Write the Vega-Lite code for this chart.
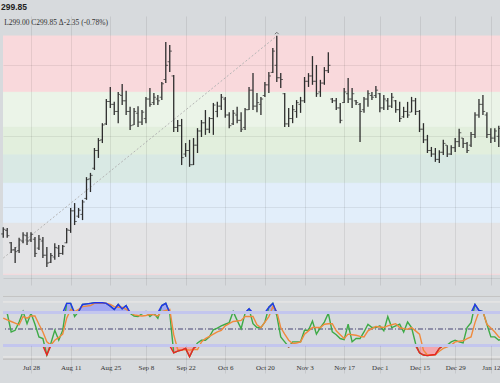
{
  "$schema": "https://vega.github.io/schema/vega-lite/v6.json",
  "background": "#d7dadd",
  "padding": {"left": 0, "right": 0, "top": 3, "bottom": 10},
  "spacing": 0,
  "config": {"view": {"stroke": null}, "title": {"anchor": "start"}},
  "datasets": {
    "bars": [
      {"d":"2025-07-17","o":272.5,"h":274.4,"l":271.4,"c":273.8,"k":79,"dd":70},
      {"d":"2025-07-18","o":273.5,"h":274.2,"l":271.4,"c":272.0,"k":79,"dd":67},
      {"d":"2025-07-21","o":270.0,"h":270.2,"l":267.1,"c":268.0,"k":45,"dd":64},
      {"d":"2025-07-22","o":268.0,"h":268.8,"l":264.3,"c":267.5,"k":48,"dd":61},
      {"d":"2025-07-23","o":267.8,"h":271.4,"l":267.1,"c":270.8,"k":63,"dd":58},
      {"d":"2025-07-24","o":270.5,"h":273.0,"l":269.9,"c":272.2,"k":82,"dd":73},
      {"d":"2025-07-25","o":272.0,"h":273.0,"l":269.4,"c":270.5,"k":60,"dd":70},
      {"d":"2025-07-28","o":270.8,"h":273.0,"l":270.2,"c":272.4,"k":79,"dd":74},
      {"d":"2025-07-29","o":271.0,"h":271.6,"l":266.0,"c":267.0,"k":59,"dd":74},
      {"d":"2025-07-30","o":268.5,"h":272.2,"l":268.0,"c":271.0,"k":36,"dd":59},
      {"d":"2025-07-31","o":270.5,"h":271.6,"l":265.7,"c":266.5,"k":33,"dd":45},
      {"d":"2025-08-01","o":266.5,"h":268.8,"l":263.2,"c":264.3,"k":3,"dd":27},
      {"d":"2025-08-04","o":264.5,"h":267.1,"l":264.3,"c":266.4,"k":24,"dd":21},
      {"d":"2025-08-05","o":266.0,"h":269.9,"l":265.2,"c":268.7,"k":48,"dd":30},
      {"d":"2025-08-06","o":268.5,"h":269.4,"l":266.0,"c":267.0,"k":30,"dd":35},
      {"d":"2025-08-07","o":267.0,"h":269.4,"l":266.6,"c":269.0,"k":48,"dd":41},
      {"d":"2025-08-08","o":270.0,"h":274.2,"l":269.9,"c":273.6,"k":97,"dd":70},
      {"d":"2025-08-11","o":273.5,"h":279.8,"l":272.8,"c":279.0,"k":97,"dd":86},
      {"d":"2025-08-12","o":279.0,"h":281.2,"l":275.0,"c":276.0,"k":73,"dd":82},
      {"d":"2025-08-13","o":277.5,"h":279.8,"l":277.0,"c":279.2,"k":82,"dd":86},
      {"d":"2025-08-14","o":278.0,"h":282.1,"l":276.4,"c":281.5,"k":95,"dd":91},
      {"d":"2025-08-15","o":282.5,"h":288.5,"l":282.1,"c":287.8,"k":96,"dd":92},
      {"d":"2025-08-18","o":288.0,"h":289.7,"l":284.3,"c":289.0,"k":97,"dd":93},
      {"d":"2025-08-19","o":291.0,"h":296.7,"l":290.5,"c":296.0,"k":98,"dd":97},
      {"d":"2025-08-20","o":296.0,"h":299.5,"l":293.9,"c":298.8,"k":98,"dd":97},
      {"d":"2025-08-21","o":299.0,"h":303.7,"l":298.1,"c":303.2,"k":98,"dd":98},
      {"d":"2025-08-22","o":303.5,"h":310.5,"l":303.2,"c":309.8,"k":97,"dd":97},
      {"d":"2025-08-25","o":309.8,"h":313.9,"l":308.0,"c":309.0,"k":92,"dd":95},
      {"d":"2025-08-26","o":309.0,"h":309.7,"l":306.0,"c":307.0,"k":86,"dd":91},
      {"d":"2025-08-27","o":307.0,"h":312.5,"l":303.7,"c":311.8,"k":95,"dd":90},
      {"d":"2025-08-28","o":311.5,"h":314.7,"l":308.8,"c":310.0,"k":87,"dd":90},
      {"d":"2025-08-29","o":310.0,"h":312.8,"l":306.0,"c":307.0,"k":93,"dd":86},
      {"d":"2025-09-02","o":307.0,"h":308.3,"l":301.8,"c":303.0,"k":79,"dd":82},
      {"d":"2025-09-03","o":303.2,"h":308.0,"l":303.2,"c":307.0,"k":74,"dd":76},
      {"d":"2025-09-04","o":306.5,"h":308.5,"l":302.6,"c":304.0,"k":73,"dd":75},
      {"d":"2025-09-05","o":304.0,"h":307.4,"l":303.2,"c":306.8,"k":78,"dd":74},
      {"d":"2025-09-08","o":305.0,"h":311.1,"l":303.7,"c":310.5,"k":82,"dd":75},
      {"d":"2025-09-09","o":310.5,"h":313.6,"l":308.3,"c":309.0,"k":73,"dd":77},
      {"d":"2025-09-10","o":309.5,"h":312.2,"l":308.8,"c":311.0,"k":79,"dd":76},
      {"d":"2025-09-11","o":310.5,"h":311.6,"l":308.8,"c":310.0,"k":70,"dd":74},
      {"d":"2025-09-12","o":311.0,"h":315.3,"l":310.2,"c":314.8,"k":93,"dd":82},
      {"d":"2025-09-15","o":316.0,"h":326.6,"l":315.0,"c":320.0,"k":97,"dd":84},
      {"d":"2025-09-16","o":321.0,"h":325.7,"l":318.1,"c":324.0,"k":79,"dd":86},
      {"d":"2025-09-17","o":317.0,"h":317.3,"l":301.2,"c":302.5,"k":7,"dd":40},
      {"d":"2025-09-18","o":302.5,"h":304.6,"l":301.2,"c":303.0,"k":10,"dd":13},
      {"d":"2025-09-19","o":303.0,"h":304.9,"l":291.9,"c":294.0,"k":12,"dd":12},
      {"d":"2025-09-22","o":295.0,"h":298.1,"l":294.2,"c":296.0,"k":15,"dd":13},
      {"d":"2025-09-23","o":296.0,"h":299.0,"l":291.4,"c":292.0,"k":0,"dd":12},
      {"d":"2025-09-24","o":292.0,"h":299.5,"l":291.9,"c":297.5,"k":15,"dd":13},
      {"d":"2025-09-25","o":297.5,"h":302.3,"l":295.3,"c":301.5,"k":25,"dd":13},
      {"d":"2025-09-26","o":301.5,"h":304.6,"l":299.8,"c":303.8,"k":30,"dd":27},
      {"d":"2025-09-29","o":303.8,"h":307.4,"l":300.4,"c":302.0,"k":30,"dd":33},
      {"d":"2025-09-30","o":302.0,"h":305.4,"l":300.9,"c":305.0,"k":36,"dd":37},
      {"d":"2025-10-01","o":305.0,"h":309.4,"l":300.4,"c":308.8,"k":49,"dd":41},
      {"d":"2025-10-02","o":307.0,"h":309.7,"l":305.4,"c":308.5,"k":52,"dd":45},
      {"d":"2025-10-03","o":308.5,"h":311.9,"l":307.4,"c":311.0,"k":56,"dd":48},
      {"d":"2025-10-06","o":310.5,"h":311.1,"l":305.2,"c":306.0,"k":59,"dd":56},
      {"d":"2025-10-07","o":306.0,"h":306.8,"l":302.3,"c":303.0,"k":62,"dd":60},
      {"d":"2025-10-08","o":303.5,"h":307.4,"l":303.2,"c":306.5,"k":82,"dd":64},
      {"d":"2025-10-09","o":306.0,"h":308.3,"l":303.7,"c":304.5,"k":66,"dd":65},
      {"d":"2025-10-10","o":304.5,"h":306.8,"l":301.2,"c":302.0,"k":51,"dd":66},
      {"d":"2025-10-13","o":302.5,"h":308.0,"l":301.8,"c":307.5,"k":79,"dd":73},
      {"d":"2025-10-14","o":307.5,"h":313.9,"l":307.4,"c":313.0,"k":87,"dd":73},
      {"d":"2025-10-15","o":313.0,"h":317.8,"l":307.4,"c":308.5,"k":60,"dd":73},
      {"d":"2025-10-16","o":308.5,"h":312.2,"l":306.8,"c":309.5,"k":53,"dd":58},
      {"d":"2025-10-17","o":309.0,"h":311.1,"l":306.0,"c":310.5,"k":53,"dd":53},
      {"d":"2025-10-20","o":311.5,"h":315.3,"l":311.1,"c":314.5,"k":63,"dd":63},
      {"d":"2025-10-21","o":314.5,"h":318.1,"l":312.2,"c":317.0,"k":90,"dd":73},
      {"d":"2025-10-22","o":318.0,"h":324.9,"l":317.8,"c":324.0,"k":97,"dd":91},
      {"d":"2025-10-23","o":320.0,"h":328.3,"l":315.3,"c":316.5,"k":75,"dd":82},
      {"d":"2025-10-24","o":316.5,"h":317.8,"l":313.6,"c":316.0,"k":36,"dd":53},
      {"d":"2025-10-27","o":312.0,"h":312.2,"l":302.6,"c":303.5,"k":27,"dd":41},
      {"d":"2025-10-28","o":303.5,"h":308.0,"l":302.6,"c":305.0,"k":18,"dd":30},
      {"d":"2025-10-29","o":305.0,"h":308.8,"l":303.7,"c":307.5,"k":27,"dd":24},
      {"d":"2025-10-30","o":307.0,"h":310.2,"l":305.2,"c":309.5,"k":27,"dd":25},
      {"d":"2025-10-31","o":309.0,"h":311.1,"l":306.6,"c":310.0,"k":27,"dd":27},
      {"d":"2025-11-03","o":310.0,"h":316.7,"l":309.4,"c":315.5,"k":48,"dd":41},
      {"d":"2025-11-04","o":315.5,"h":317.8,"l":313.9,"c":317.0,"k":48,"dd":47},
      {"d":"2025-11-05","o":317.0,"h":322.6,"l":314.5,"c":315.5,"k":65,"dd":53},
      {"d":"2025-11-06","o":315.5,"h":320.1,"l":311.1,"c":312.0,"k":41,"dd":53},
      {"d":"2025-11-07","o":312.5,"h":315.9,"l":311.1,"c":315.0,"k":53,"dd":53},
      {"d":"2025-11-10","o":315.0,"h":319.5,"l":314.5,"c":318.5,"k":63,"dd":59},
      {"d":"2025-11-11","o":318.5,"h":323.7,"l":317.8,"c":320.0,"k":79,"dd":60},
      {"d":"2025-11-12","o":310.5,"h":310.8,"l":309.4,"c":310.0,"k":45,"dd":60},
      {"d":"2025-11-13","o":310.0,"h":310.8,"l":307.4,"c":308.0,"k":40,"dd":47},
      {"d":"2025-11-14","o":308.0,"h":309.4,"l":303.7,"c":304.5,"k":33,"dd":40},
      {"d":"2025-11-17","o":309.5,"h":313.6,"l":309.4,"c":312.5,"k":31,"dd":33},
      {"d":"2025-11-18","o":312.0,"h":316.4,"l":309.4,"c":310.5,"k":59,"dd":41},
      {"d":"2025-11-19","o":310.5,"h":313.6,"l":308.0,"c":312.0,"k":27,"dd":40},
      {"d":"2025-11-20","o":310.0,"h":310.2,"l":308.8,"c":309.5,"k":33,"dd":39},
      {"d":"2025-11-21","o":309.0,"h":309.4,"l":298.4,"c":307.0,"k":33,"dd":37},
      {"d":"2025-11-24","o":307.5,"h":311.1,"l":306.6,"c":310.5,"k":45,"dd":36},
      {"d":"2025-11-25","o":310.5,"h":313.0,"l":308.3,"c":312.0,"k":59,"dd":47},
      {"d":"2025-11-26","o":311.5,"h":312.5,"l":310.2,"c":311.0,"k":53,"dd":51},
      {"d":"2025-11-28","o":311.5,"h":314.2,"l":310.8,"c":313.0,"k":53,"dd":55},
      {"d":"2025-12-01","o":312.0,"h":312.2,"l":306.8,"c":308.0,"k":56,"dd":54},
      {"d":"2025-12-02","o":308.0,"h":311.6,"l":307.4,"c":310.5,"k":47,"dd":53},
      {"d":"2025-12-03","o":310.0,"h":310.8,"l":307.4,"c":308.5,"k":73,"dd":56},
      {"d":"2025-12-04","o":308.5,"h":312.2,"l":308.0,"c":311.0,"k":53,"dd":58},
      {"d":"2025-12-05","o":310.0,"h":310.2,"l":306.6,"c":307.5,"k":56,"dd":60},
      {"d":"2025-12-08","o":307.5,"h":309.7,"l":304.0,"c":305.0,"k":59,"dd":53},
      {"d":"2025-12-09","o":305.5,"h":308.3,"l":305.2,"c":307.0,"k":45,"dd":51},
      {"d":"2025-12-10","o":307.0,"h":309.7,"l":305.2,"c":306.0,"k":63,"dd":50},
      {"d":"2025-12-11","o":306.8,"h":311.1,"l":306.8,"c":310.0,"k":53,"dd":53},
      {"d":"2025-12-12","o":310.0,"h":310.8,"l":306.0,"c":307.0,"k":24,"dd":47},
      {"d":"2025-12-15","o":307.0,"h":307.4,"l":301.2,"c":302.0,"k":7,"dd":41},
      {"d":"2025-12-16","o":302.0,"h":303.7,"l":298.1,"c":299.0,"k":3,"dd":12},
      {"d":"2025-12-17","o":299.0,"h":300.4,"l":295.3,"c":296.0,"k":2,"dd":3},
      {"d":"2025-12-18","o":296.0,"h":297.0,"l":294.2,"c":295.0,"k":3,"dd":3},
      {"d":"2025-12-19","o":295.0,"h":296.7,"l":292.8,"c":293.5,"k":4,"dd":4},
      {"d":"2025-12-22","o":293.5,"h":296.1,"l":292.5,"c":295.5,"k":15,"dd":10},
      {"d":"2025-12-23","o":295.5,"h":299.0,"l":294.7,"c":298.0,"k":21,"dd":15},
      {"d":"2025-12-24","o":297.5,"h":297.5,"l":294.2,"c":295.0,"k":21,"dd":18},
      {"d":"2025-12-26","o":295.0,"h":297.5,"l":294.7,"c":296.8,"k":27,"dd":21},
      {"d":"2025-12-29","o":296.8,"h":299.5,"l":295.6,"c":298.5,"k":30,"dd":27},
      {"d":"2025-12-30","o":298.5,"h":302.1,"l":297.0,"c":301.0,"k":27,"dd":28},
      {"d":"2025-12-31","o":299.5,"h":299.5,"l":296.7,"c":298.0,"k":25,"dd":29},
      {"d":"2026-01-02","o":298.0,"h":298.4,"l":295.3,"c":296.0,"k":53,"dd":33},
      {"d":"2026-01-05","o":297.5,"h":301.2,"l":297.0,"c":300.5,"k":62,"dd":36},
      {"d":"2026-01-06","o":300.5,"h":306.8,"l":299.5,"c":306.0,"k":95,"dd":62},
      {"d":"2026-01-07","o":306.0,"h":310.5,"l":305.2,"c":309.0,"k":84,"dd":82},
      {"d":"2026-01-08","o":309.0,"h":311.6,"l":306.0,"c":307.0,"k":82,"dd":82},
      {"d":"2026-01-09","o":306.0,"h":306.8,"l":299.5,"c":300.5,"k":59,"dd":59},
      {"d":"2026-01-12","o":300.5,"h":302.3,"l":298.1,"c":299.5,"k":36,"dd":52},
      {"d":"2026-01-13","o":299.5,"h":302.3,"l":298.4,"c":301.5,"k":36,"dd":45},
      {"d":"2026-01-14","o":300.0,"h":303.0,"l":297.0,"c":302.2,"k":30,"dd":36},
      {"d":"2026-01-15","o":302.0,"h":302.6,"l":299.0,"c":299.85,"k":33,"dd":33}
    ],
    "zones": [
      {"z":"z1","lo":312.39,"hi":328.25},
      {"z":"z2","lo":302.54,"hi":312.39},
      {"z":"z3","lo":294.73,"hi":302.54},
      {"z":"z4","lo":286.76,"hi":294.73},
      {"z":"z5","lo":275.49,"hi":286.76},
      {"z":"z6","lo":261.13,"hi":275.49}
    ],
    "fib": [
      {"f":"f1","p":328.25},
      {"f":"f2","p":312.39},
      {"f":"f3","p":302.54},
      {"f":"f4","p":294.73},
      {"f":"f5","p":286.76},
      {"f":"f6","p":275.49},
      {"f":"f7","p":261.13}
    ],
    "diag": [
      {"d":"2025-07-17","p":265.7},
      {"d":"2025-10-23","p":328.25}
    ],
    "info": [
      {"d":"2025-07-17","p":331.9,"t":"L299.00 C299.85 Δ-2.35 (-0.78%)"}
    ]
  },
  "vconcat": [
    {
      "width": 500,
      "height": 269,
      "title": {"text": "299.85", "fontSize": 8.5, "font": "Liberation Sans", "color": "#222", "fontWeight": "bold", "offset": 4.5},
      "layer": [
        {
          "data": {"name": "zones"},
          "mark": {"type": "rect"},
          "encoding": {
            "y": {"field": "lo", "type": "quantitative", "scale": {"domain": [258.11, 333.89], "nice": false, "zero": false},
                  "axis": {"values": [260, 270, 280, 290, 300, 310, 320, 330], "grid": true, "gridColor": "#000", "gridOpacity": 0.07, "labels": false, "ticks": false, "domain": false, "title": null, "zindex": 1}},
            "y2": {"field": "hi"},
            "color": {"field": "z", "type": "nominal", "legend": null,
                      "scale": {"domain": ["z1","z2","z3","z4","z5","z6"], "range": ["#f9d9dc","#ebf4e8","#e2efdd","#d9e9e4","#e2eefa","#e4e4e6"]}}
          }
        },
        {
          "data": {"name": "fib"},
          "mark": {"type": "rule", "strokeWidth": 1},
          "encoding": {
            "y": {"field": "p", "type": "quantitative"},
            "color": {"field": "f", "type": "nominal", "legend": null,
                      "scale": {"domain": ["f1","f2","f3","f4","f5","f6","f7"], "range": ["#b9afb2","#efa3a5","#a9d3a2","#a0cb9e","#a3c6d3","#a9c6e6","#b5b5b7"]}}
          }
        },
        {
          "mark": {"type": "rule", "color": "#c2c5c8", "strokeWidth": 1},
          "encoding": {"y": {"datum": 334.0, "type": "quantitative"}}
        },
        {
          "mark": {"type": "rule", "color": "#3a3a3a", "strokeWidth": 1.5},
          "encoding": {"y": {"datum": 338.6, "type": "quantitative"}}
        },
        {
          "data": {"name": "diag"},
          "mark": {"type": "line", "strokeDash": [2, 2], "color": "#b5b5b5", "strokeWidth": 1},
          "encoding": {
            "x": {"field": "d", "type": "ordinal", "scale": {"type": "point", "padding": 0.063},
                  "axis": {"values": ["2025-07-28","2025-08-11","2025-08-25","2025-09-08","2025-09-22","2025-10-06","2025-10-20","2025-11-03","2025-11-17","2025-12-01","2025-12-15","2025-12-29","2026-01-12"], "grid": true, "gridColor": "#000", "gridOpacity": 0.08, "labels": false, "ticks": false, "domain": false, "title": null, "zindex": 1}},
            "y": {"field": "p", "type": "quantitative"}
          }
        },
        {
          "data": {"name": "bars"},
          "mark": {"type": "rule", "color": "#2e2e2e", "strokeWidth": 1.3},
          "encoding": {
            "x": {"field": "d", "type": "ordinal"},
            "y": {"field": "l", "type": "quantitative"},
            "y2": {"field": "h"}
          }
        },
        {
          "data": {"name": "bars"},
          "mark": {"type": "tick", "color": "#2e2e2e", "size": 2, "thickness": 1, "xOffset": -1.2},
          "encoding": {
            "x": {"field": "d", "type": "ordinal"},
            "y": {"field": "o", "type": "quantitative"}
          }
        },
        {
          "data": {"name": "bars"},
          "mark": {"type": "tick", "color": "#2e2e2e", "size": 2, "thickness": 1, "xOffset": 1.2},
          "encoding": {
            "x": {"field": "d", "type": "ordinal"},
            "y": {"field": "c", "type": "quantitative"}
          }
        },
        {
          "data": {"name": "diag"},
          "transform": [{"filter": {"field": "d", "equal": "2025-10-23"}}],
          "mark": {"type": "point", "shape": "M-1,0.6L0,-0.4L1,0.6", "filled": false, "color": "#444", "size": 14, "strokeWidth": 1, "yOffset": -3},
          "encoding": {
            "x": {"field": "d", "type": "ordinal"},
            "y": {"field": "p", "type": "quantitative"}
          }
        },
        {
          "data": {"name": "info"},
          "mark": {"type": "text", "align": "left", "baseline": "middle", "font": "Liberation Serif", "fontSize": 7.5, "color": "#333", "dx": 1},
          "encoding": {
            "x": {"field": "d", "type": "ordinal"},
            "y": {"field": "p", "type": "quantitative"},
            "text": {"field": "t"}
          }
        }
      ]
    },
    {
      "width": 500,
      "height": 88,
      "data": {"name": "bars"},
      "layer": [
        {
          "mark": {"type": "rule", "color": "#c4c4c4", "strokeWidth": 1},
          "encoding": {"y": {"datum": 109.5, "type": "quantitative", "scale": {"domain": [-29.64, 130.36], "nice": false, "zero": false}, "axis": null}}
        },
        {
          "mark": {"type": "rule", "color": "#c4c4c4", "strokeWidth": 1},
          "encoding": {"y": {"datum": -5, "type": "quantitative", "scale": {"domain": [-29.64, 130.36], "nice": false, "zero": false}, "axis": null}}
        },
        {
          "mark": {"type": "rule", "color": "#e3e3e3", "strokeWidth": 1},
          "encoding": {"y": {"datum": 100, "type": "quantitative", "scale": {"domain": [-29.64, 130.36], "nice": false, "zero": false}, "axis": null}}
        },
        {
          "mark": {"type": "rule", "color": "#e3e3e3", "strokeWidth": 1},
          "encoding": {"y": {"datum": 0, "type": "quantitative", "scale": {"domain": [-29.64, 130.36], "nice": false, "zero": false}, "axis": null}}
        },
        {
          "mark": {"type": "rule", "color": "#8f8fa8", "strokeWidth": 1, "strokeDash": [5, 2, 1, 2]},
          "encoding": {"y": {"datum": 50, "type": "quantitative", "scale": {"domain": [-29.64, 130.36], "nice": false, "zero": false}, "axis": null}}
        },
        {
          "mark": {"type": "area", "color": "#a3a8f2", "opacity": 1},
          "encoding": {
            "x": {"field": "d", "type": "ordinal", "scale": {"type": "point", "padding": 0.063},
                  "axis": {"values": ["2025-07-28","2025-08-11","2025-08-25","2025-09-08","2025-09-22","2025-10-06","2025-10-20","2025-11-03","2025-11-17","2025-12-01","2025-12-15","2025-12-29","2026-01-12"], "grid": true, "gridColor": "#000", "gridOpacity": 0.08, "labels": true, "labelAngle": 0, "labelBaseline": "top", "labelExpr": "utcFormat(toDate(datum.value), '%b %-d')", "labelFont": "Liberation Serif", "labelFontSize": 7, "labelColor": "#333", "labelPadding": 1, "offset": -11, "ticks": false, "domain": false, "title": null, "zindex": 1}},
            "y": {"field": "k", "type": "quantitative", "scale": {"domain": [80, 130.36], "range": [27.7, 0], "clamp": true, "nice": false, "zero": false}, "axis": null},
            "y2": {"datum": 80}
          }
        },
        {
          "mark": {"type": "area", "color": "#f4a6ad", "opacity": 1},
          "encoding": {
            "x": {"field": "d", "type": "ordinal"},
            "y": {"field": "k", "type": "quantitative", "scale": {"domain": [-29.64, 20], "range": [88, 60.7], "clamp": true, "nice": false, "zero": false}, "axis": null},
            "y2": {"datum": 20}
          }
        },
        {
          "mark": {"type": "line", "color": "#3daa46", "strokeWidth": 1.4},
          "encoding": {
            "x": {"field": "d", "type": "ordinal"},
            "y": {"field": "k", "type": "quantitative", "scale": {"domain": [-29.64, 130.36], "nice": false, "zero": false}, "axis": null}
          }
        },
        {
          "mark": {"type": "line", "color": "#f08a3c", "strokeWidth": 1.4},
          "encoding": {
            "x": {"field": "d", "type": "ordinal"},
            "y": {"field": "dd", "type": "quantitative", "scale": {"domain": [-29.64, 130.36], "nice": false, "zero": false}, "axis": null}
          }
        },
        {
          "mark": {"type": "line", "color": "#2233ee", "strokeWidth": 1.4},
          "encoding": {
            "x": {"field": "d", "type": "ordinal"},
            "y": {"field": "k", "type": "quantitative", "scale": {"domain": [80, 130.36], "range": [27.7, 0], "clamp": true, "nice": false, "zero": false}, "axis": null}
          }
        },
        {
          "mark": {"type": "line", "color": "#ee2222", "strokeWidth": 1.4},
          "encoding": {
            "x": {"field": "d", "type": "ordinal"},
            "y": {"field": "k", "type": "quantitative", "scale": {"domain": [-29.64, 20], "range": [88, 60.7], "clamp": true, "nice": false, "zero": false}, "axis": null}
          }
        },
        {
          "mark": {"type": "rule", "color": "#c3c6ee", "strokeWidth": 2.5},
          "encoding": {"y": {"datum": 80, "type": "quantitative", "scale": {"domain": [-29.64, 130.36], "nice": false, "zero": false}, "axis": null}}
        },
        {
          "mark": {"type": "rule", "color": "#c3c6ee", "strokeWidth": 2.5},
          "encoding": {"y": {"datum": 20, "type": "quantitative", "scale": {"domain": [-29.64, 130.36], "nice": false, "zero": false}, "axis": null}}
        }
      ],
      "resolve": {"scale": {"y": "independent"}}
    }
  ]
}
